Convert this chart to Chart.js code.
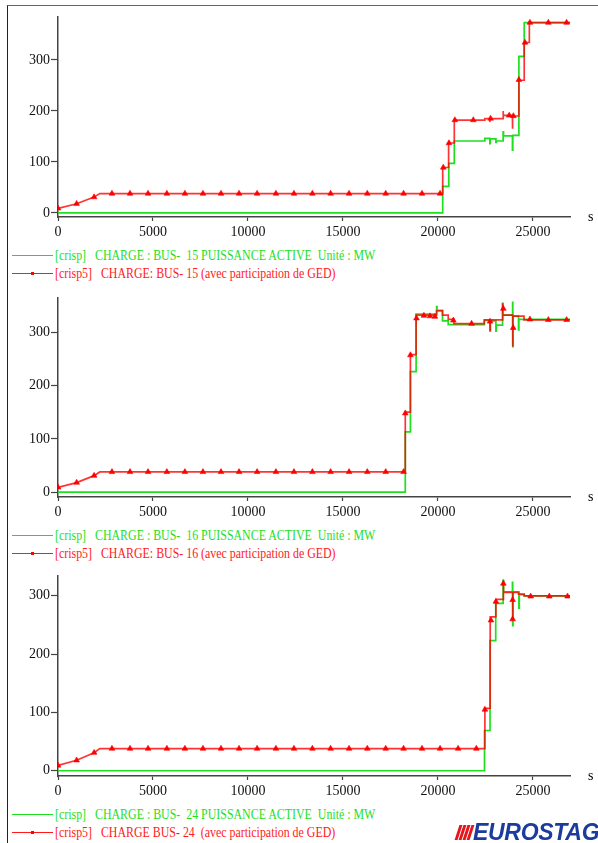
<!DOCTYPE html>
<html>
<head>
<meta charset="UTF-8">
<title>EUROSTAG - charges BUS 15, 16, 24</title>
<script src="https://cdn.jsdelivr.net/npm/chart.js"></script>
<style>
    body {
        margin: 0;
        background: #fff;
    }

    #page {
        position: relative;
        width: 598px;
        height: 843px;
        overflow: hidden;
        font-family: "Liberation Serif", "Times New Roman", serif;
    }

    #frame {
        position: absolute;
        left: 7px;
        top: 5px;
        width: 620px;
        height: 860px;
        border-left: 1.5px solid #222;
        border-top: 1.5px solid #666;
    }

    canvas {
        position: absolute;
        left: 0;
    }

    .unit {
        position: absolute;
        left: 588px;
        font-size: 14px;
        line-height: 16px;
    }

    .leg {
        position: absolute;
        left: 12px;
        width: 560px;
        height: 16px;
        font-size: 14px;
        line-height: 16px;
        white-space: pre;
    }

    .leg .line {
        position: absolute;
        left: 0;
        top: 7px;
        width: 41px;
        border-top: 1.4px solid;
    }

    .leg .dot {
        position: absolute;
        left: 19px;
        top: 6px;
        width: 3px;
        height: 3px;
        background: #f00;
    }

    .leg .txt {
        position: absolute;
        left: 43px;
        top: 0;
        transform: scaleX(0.85);
        transform-origin: left center;
    }

    .green { color: #1ee01e; }
    .red { color: #ff1a1a; }

    #logo {
        position: absolute;
        left: 455px;
        top: 822px;
        height: 21px;
    }

    #logo .bar {
        position: absolute;
        top: 3px;
        width: 2.6px;
        height: 15px;
        background: #e8141c;
        transform: skewX(-18deg);
    }

    #logo .word {
        position: absolute;
        left: 18px;
        top: -2px;
        font-family: "Liberation Sans", Arial, sans-serif;
        font-weight: bold;
        font-style: italic;
        font-size: 23px;
        line-height: 24px;
        color: #1b3c9c;
        letter-spacing: -0.3px;
    }
</style>
</head>
<body>
<div id="page">
    <div id="frame"></div>

    <canvas id="bus15" width="598" height="245" style="top:0"></canvas>
    <div class="unit" style="top:209px">s</div>
    <div class="leg" style="top:248px">
        <div class="line green"></div>
        <div class="txt green">[crisp]   CHARGE : BUS-  15 PUISSANCE ACTIVE  Unité : MW</div>
    </div>
    <div class="leg" style="top:266px">
        <div class="line red"></div><div class="dot"></div>
        <div class="txt red">[crisp5]   CHARGE: BUS- 15 (avec participation de GED)</div>
    </div>

    <canvas id="bus16" width="598" height="245" style="top:280px"></canvas>
    <div class="unit" style="top:489px">s</div>
    <div class="leg" style="top:528px">
        <div class="line green"></div>
        <div class="txt green">[crisp]   CHARGE : BUS-  16 PUISSANCE ACTIVE  Unité : MW</div>
    </div>
    <div class="leg" style="top:546px">
        <div class="line red"></div><div class="dot"></div>
        <div class="txt red">[crisp5]   CHARGE: BUS- 16 (avec participation de GED)</div>
    </div>

    <canvas id="bus24" width="598" height="245" style="top:558px"></canvas>
    <div class="unit" style="top:768px">s</div>
    <div class="leg" style="top:807px">
        <div class="line green"></div>
        <div class="txt green">[crisp]   CHARGE : BUS-  24 PUISSANCE ACTIVE  Unité : MW</div>
    </div>
    <div class="leg" style="top:825px">
        <div class="line red"></div><div class="dot"></div>
        <div class="txt red">[crisp5]   CHARGE BUS- 24  (avec participation de GED)</div>
    </div>

    <div id="logo">
        <div class="bar" style="left:2px"></div>
        <div class="bar" style="left:6px"></div>
        <div class="bar" style="left:10px"></div>
        <div class="bar" style="left:14px"></div>
        <div class="word">EUROSTAG</div>
    </div>
</div>

<script>
    // axes (temps en s, puissance en MW)
    const xTicks = [0, 5000, 10000, 15000, 20000, 25000];
    const yTicks = [0, 100, 200, 300];
    const tEnd = 26950;

    // BUS-15 : [t, P]
    const bus15Crisp = [
        [0, 0], [20250, 52], [20570, 97], [20860, 141], [22470, 146], [22730, 136], [22750, 145],
        [23050, 138], [23070, 141], [23430, 159], [23450, 151], [23920, 123], [23940, 152],
        [24260, 307], [24540, 373], [tEnd, 373]
    ];
    const bus15Ged = [
        [0, 9], [980, 18], [1900, 31], [2200, 38], [20250, 38], [20250, 89], [20560, 89], [20560, 137],
        [20860, 137], [20860, 182], [22470, 182], [22470, 185], [22730, 185], [22730, 178], [22740, 185],
        [23430, 185], [23430, 200], [23440, 191], [23920, 191], [23920, 165], [23935, 190], [24260, 190],
        [24260, 260], [24540, 260], [24540, 334], [24810, 334], [24810, 373], [tEnd, 373]
    ];
    const bus15GedMarks = [
        [0, 9], [980, 18], [1900, 31], [2840, 38], [3790, 38], [4740, 38], [5730, 38], [6680, 38],
        [7630, 38], [8580, 38], [9530, 38], [10480, 38], [11470, 38], [12420, 38], [13390, 38],
        [14350, 38], [15320, 38], [16280, 38], [17250, 38], [18190, 38], [19160, 38], [20110, 38],
        [20280, 89], [20580, 137], [20890, 182], [21860, 182], [22770, 185], [23750, 191], [23970, 190],
        [24260, 261], [24580, 334], [24840, 373], [25810, 373], [26770, 373]
    ];

    // BUS-16
    const bus16Crisp = [
        [0, 0], [18280, 113], [18550, 226], [18850, 334], [19930, 348], [19950, 341], [20240, 321],
        [20540, 314], [20840, 314], [22440, 322], [22740, 302], [22760, 321], [23050, 302], [23070, 313],
        [23400, 354], [23420, 332], [23930, 356], [23940, 273], [23955, 330], [24240, 304], [24260, 324],
        [tEnd, 324]
    ];
    const bus16Ged = [
        [0, 9], [980, 18], [1900, 31], [2200, 38], [18280, 38], [18280, 150], [18550, 150], [18550, 258],
        [18850, 258], [18850, 332], [19930, 332], [19930, 340], [20240, 340], [20240, 332], [20540, 332],
        [20540, 324], [20840, 324], [20840, 316], [22440, 316], [22440, 323], [22740, 323], [22740, 302],
        [22755, 323], [23400, 323], [23400, 354], [23415, 332], [23930, 332], [23930, 273], [23945, 330],
        [24530, 330], [24530, 323], [tEnd, 323]
    ];
    const bus16GedMarks = [
        [0, 9], [980, 18], [1900, 31], [2840, 38], [3790, 38], [4740, 38], [5730, 38], [6680, 38],
        [7630, 38], [8580, 38], [9530, 38], [10480, 38], [11470, 38], [12420, 38], [13390, 38],
        [14350, 38], [15320, 38], [16280, 38], [17250, 38], [18190, 38], [18280, 148], [18550, 257],
        [18870, 326], [19260, 331], [19580, 330], [19840, 329], [20810, 322], [21770, 316], [22740, 320],
        [23440, 344], [23960, 308], [24840, 324], [25810, 323], [26770, 323]
    ];

    // BUS-24
    const bus24Crisp = [
        [0, 0], [22450, 69], [22740, 223], [23040, 287], [23430, 327], [23450, 307], [23920, 323],
        [23935, 249], [23950, 307], [24260, 279], [24280, 302], [24540, 300], [tEnd, 300]
    ];
    const bus24Ged = [
        [0, 9], [980, 18], [1900, 31], [2200, 38], [22470, 38], [22470, 107], [22750, 107], [22750, 264],
        [23050, 264], [23050, 294], [23440, 294], [23440, 326], [23455, 306], [23930, 306], [23930, 259],
        [23945, 306], [24240, 306], [24240, 303], [24540, 303], [24540, 300], [tEnd, 300]
    ];
    const bus24GedMarks = [
        [0, 9], [980, 18], [1900, 31], [2840, 38], [3790, 38], [4740, 38], [5730, 38], [6680, 38],
        [7630, 38], [8580, 38], [9530, 38], [10480, 38], [11470, 38], [12420, 38], [13390, 38],
        [14350, 38], [15320, 38], [16280, 38], [17250, 38], [18190, 38], [19160, 38], [20110, 38],
        [21060, 38], [22020, 38], [22470, 105], [22790, 258], [23050, 290], [23440, 321], [23930, 293],
        [23930, 260], [24880, 299], [25860, 299], [26820, 299]
    ];

    const GREEN = '#1ee01e';
    const RED = 'rgba(255, 0, 0, 0.8)';
    const AXIS = '#444';

    function drawBus(id, crisp, ged, marks, yMin, yMax, plotTop, plotBottom) {
        const canvas = document.getElementById(id);
        const h = canvas.height;
        new Chart(canvas.getContext('2d'), {
            type: 'line',
            data: {
                datasets: [
                    {
                        data: marks,
                        showLine: false,
                        pointStyle: 'triangle',
                        pointRadius: 3.3,
                        backgroundColor: '#ff0000',
                        borderColor: 'rgba(255, 0, 0, 0.6)',
                        borderWidth: 1
                    },
                    {
                        data: ged,
                        borderColor: RED,
                        borderWidth: 1.7,
                        pointRadius: 0,
                        fill: false
                    },
                    {
                        // valeur tenue jusqu'au point suivant
                        data: crisp,
                        stepped: true,
                        borderColor: GREEN,
                        borderWidth: 1.7,
                        pointRadius: 0,
                        fill: false
                    }
                ]
            },
            options: {
                responsive: false,
                animation: false,
                events: [],
                layout: { padding: { left: 0, top: plotTop, right: 28, bottom: 0 } },
                plugins: { legend: { display: false }, tooltip: { enabled: false } },
                scales: {
                    x: {
                        type: 'linear',
                        min: 0,
                        max: tEnd,
                        afterBuildTicks: s => { s.ticks = xTicks.map(v => ({ value: v })); },
                        afterFit: s => { s.height = h - plotBottom; },
                        border: { color: AXIS, width: 1.5 },
                        grid: { drawOnChartArea: false, tickLength: 4, color: AXIS, tickWidth: 1.2 },
                        ticks: {
                            color: '#111',
                            padding: 3,
                            maxRotation: 0,
                            font: { family: 'Liberation Serif', size: 14 },
                            callback: v => String(v)
                        }
                    },
                    y: {
                        min: yMin,
                        max: yMax,
                        afterBuildTicks: s => { s.ticks = yTicks.map(v => ({ value: v })); },
                        afterFit: s => { s.width = 58; },
                        border: { color: AXIS, width: 1.5 },
                        grid: { drawOnChartArea: false, tickLength: 7, color: AXIS, tickWidth: 1.2 },
                        ticks: {
                            color: '#111',
                            padding: 1,
                            font: { family: 'Liberation Serif', size: 14 },
                            callback: v => String(v)
                        }
                    }
                }
            }
        });
    }

    drawBus('bus15', bus15Crisp, bus15Ged, bus15GedMarks, -8, 384, 17, 217);
    drawBus('bus16', bus16Crisp, bus16Ged, bus16GedMarks, -9, 364, 18, 217);
    drawBus('bus24', bus24Crisp, bus24Ged, bus24GedMarks, -9, 334, 18, 218);
</script>
</body>
</html>
